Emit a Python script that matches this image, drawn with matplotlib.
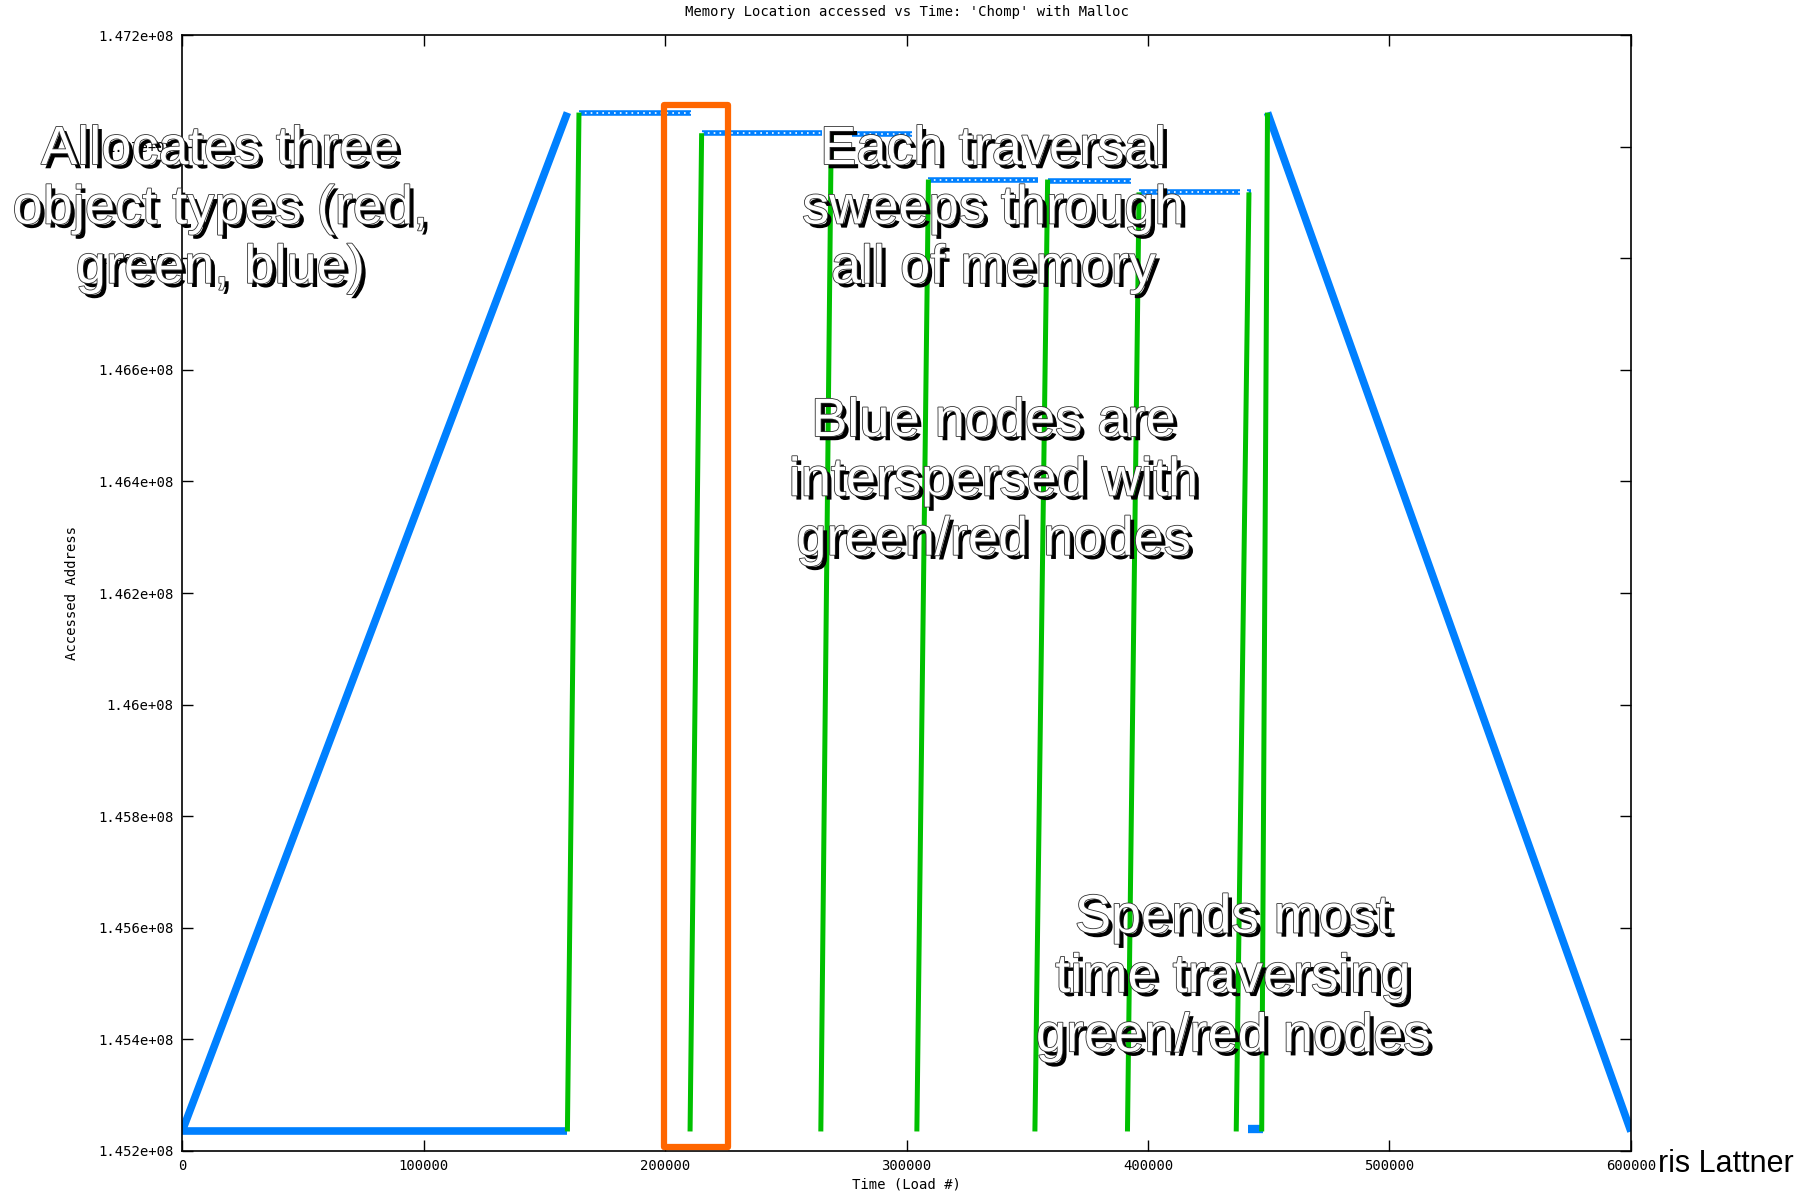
import numpy as np
import matplotlib
matplotlib.use("Agg")
from matplotlib import pyplot as plt
from matplotlib.patches import Rectangle
import matplotlib.patheffects as pe

# blue (allocation ramps and the baseline)
blue_up_x = [0, 159580]
blue_up_y = [1.45235e8, 1.47061e8]
blue_base_x = [0, 159580]
blue_base_y = [1.45235e8, 1.45235e8]
blue_down_x = [449490, 600000]
blue_down_y = [1.47061e8, 1.45235e8]
blue_stub_x = [441340, 447570]
blue_stub_y = [1.45239e8, 1.45239e8]

# blue accesses at the top of each traversal (start x, end x, address)
blue_top_x0 = [164370, 215160, 277460, 309080, 358440, 396290, 440860]
blue_top_x1 = [210850, 264990, 302380, 354600, 392940, 437980, 442780]
blue_top_y = [1.47061e8, 1.47024e8, 1.47022e8, 1.46941e8, 1.46939e8, 1.46918e8, 1.46918e8]

# green traversals (bottom x, top x, top address)
green_x0 = [159580, 210370, 264520, 304290, 353170, 391500, 436540, 447090]
green_x1 = [164370, 215160, 268830, 309080, 358440, 396290, 441810, 449490]
green_y0 = [1.45235e8, 1.45235e8, 1.45235e8, 1.45235e8, 1.45235e8, 1.45235e8, 1.45235e8, 1.45235e8]
green_y1 = [1.47061e8, 1.47024e8, 1.47024e8, 1.46941e8, 1.46941e8, 1.46918e8, 1.46918e8, 1.47061e8]

# highlighted box
box_x = [199700, 226000]
box_y = [1.45207e8, 1.47074e8]

xticks = [0, 100000, 200000, 300000, 400000, 500000, 600000]
yticks = [1.452e8, 1.454e8, 1.456e8, 1.458e8, 1.46e8, 1.462e8, 1.464e8,
          1.466e8, 1.468e8, 1.47e8, 1.472e8]
ytick_labels = ["1.452e+08", "1.454e+08", "1.456e+08", "1.458e+08", "1.46e+08",
                "1.462e+08", "1.464e+08", "1.466e+08", "1.468e+08", "1.47e+08",
                "1.472e+08"]

BLUE = "#0080ff"
GREEN = "#00c000"
ORANGE = "#ff6600"
mono = "DejaVu Sans Mono"

fig = plt.figure(figsize=(18.15, 11.92), dpi=100)
ax = fig.add_axes([0.1003, 0.0344, 0.7983, 0.9362])

ax.plot(blue_base_x, blue_base_y, color=BLUE, lw=5.5, solid_capstyle="butt")
ax.plot(blue_up_x, blue_up_y, color=BLUE, lw=5.5, solid_capstyle="butt")
ax.plot(blue_down_x, blue_down_y, color=BLUE, lw=5.5, solid_capstyle="butt")
ax.plot(blue_stub_x, blue_stub_y, color=BLUE, lw=6, solid_capstyle="butt")

for x0, x1, y in zip(blue_top_x0, blue_top_x1, blue_top_y):
    ax.plot([x0, x1], [y, y], color=BLUE, lw=4, solid_capstyle="butt")
    ax.plot([x0, x1], [y, y], color="white", lw=1.2, ls=(0, (1, 2.5)))

for x0, x1, y0, y1 in zip(green_x0, green_x1, green_y0, green_y1):
    ax.plot([x0, x1], [y0, y1], color=GREEN, lw=3.6, solid_capstyle="butt")

rect = Rectangle((box_x[0], box_y[0]), box_x[1] - box_x[0], box_y[1] - box_y[0],
                 fill=False, edgecolor=ORANGE, lw=4.5, clip_on=False, zorder=5,
                 joinstyle="round")
ax.add_patch(rect)

ax.set_xlim(0, 600000)
ax.set_ylim(1.452e8, 1.472e8)
ax.set_xticks(xticks)
ax.set_xticklabels([str(v) for v in xticks], family=mono, fontsize=10)
ax.set_yticks(yticks)
ax.set_yticklabels(ytick_labels, family=mono, fontsize=10)
ax.tick_params(direction="in", length=8, width=1, top=True, right=True, pad=6)
for s in ax.spines.values():
    s.set_linewidth(1.2)

ax.set_title("Memory Location accessed vs Time: 'Chomp' with Malloc",
             family=mono, fontsize=10, pad=14)
ax.set_xlabel("Time (Load #)", family=mono, fontsize=10, labelpad=3)
ax.set_ylabel("Accessed Address", family=mono, fontsize=10, labelpad=14)

effects = [pe.SimplePatchShadow(offset=(3, -3), shadow_rgbFace="black", alpha=1.0),
           pe.Stroke(linewidth=1.2, foreground="#333333"), pe.Normal()]
notes = [
    ("Allocates three\nobject types (red,\ngreen, blue)", 190, 181),
    ("Each traversal\nsweeps through\nall of memory", 858, 181),
    ("Blue nodes are\ninterspersed with\ngreen/red nodes", 858, 416),
    ("Spends most\ntime traversing\ngreen/red nodes", 1065, 845),
]
for txt, xd, yd in notes:
    fig.text(xd / 1568, 1 - yd / 1030, txt, ha="center", va="center",
             family="Liberation Sans", fontsize=39, color="white",
             linespacing=1.24, path_effects=effects, zorder=10)

fig.text(1432 / 1568, 1 - 1006 / 1030, "ris Lattner", ha="left", va="center",
         family="Liberation Sans", fontsize=22, color="black")

fig.savefig("out.png", dpi=100)
